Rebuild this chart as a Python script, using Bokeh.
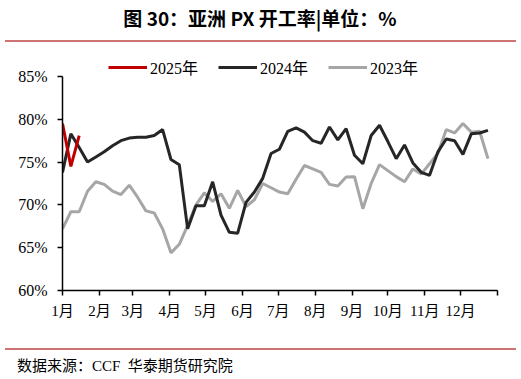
from bokeh.plotting import figure
from bokeh.models import Legend, LegendItem, FixedTicker, Div
from bokeh.layouts import column
from bokeh.embed import file_html
from bokeh.resources import INLINE

# ---- data (weekly, week index from Jan 1) ----
weeks_2025 = [0, 1, 2]
rate_2025 = [79.5, 74.5, 78.1]

weeks_2024 = list(range(52))
rate_2024 = [73.8, 78.3, 76.7, 75.0, 75.6, 76.2, 76.9, 77.5, 77.8, 77.9,
             77.9, 78.1, 78.8, 75.3, 74.7, 67.2, 69.9, 69.9, 72.7, 68.8,
             66.8, 66.7, 70.3, 71.5, 73.1, 76.0, 76.5, 78.6, 79.0, 78.5,
             77.5, 77.2, 79.1, 77.6, 78.9, 75.8, 74.8, 78.1, 79.3, 77.4,
             75.4, 77.0, 74.9, 73.8, 73.45, 76.2, 77.7, 77.5, 75.9, 78.3,
             78.4, 78.7]

weeks_2023 = list(range(52))
rate_2023 = [67.2, 69.2, 69.2, 71.6, 72.7, 72.4, 71.6, 71.2, 72.3, 70.9,
             69.3, 69.05, 67.2, 64.4, 65.4, 67.6, 70.0, 71.4, 70.4, 71.3,
             69.6, 71.7, 69.8, 70.6, 72.5, 72.0, 71.5, 71.3, 73.0, 74.6,
             74.2, 73.8, 72.4, 72.2, 73.25, 73.3, 69.55, 72.5, 74.7, 74.0,
             73.3, 72.7, 74.2, 73.6, 74.8, 76.0, 78.8, 78.4, 79.5, 78.5,
             78.6, 75.4]

month_starts = [0, 31, 59, 90, 120, 151, 181, 212, 243, 273, 304, 334, 365]
month_labels = ["1月", "2月", "3月", "4月", "5月", "6月", "7月", "8月",
                "9月", "10月", "11月", "12月", ""]
y_ticks = [60, 65, 70, 75, 80, 85]
y_labels = ["60%", "65%", "70%", "75%", "80%", "85%"]

title_text = "图 30：亚洲 PX 开工率|单位：%"
source_text = "数据来源：CCF&nbsp;&nbsp;华泰期货研究院"
series_names = ["2025年", "2024年", "2023年"]
series_colors = ["#c00000", "#262626", "#a6a6a6"]

SERIF = "'Liberation Serif', 'Noto Sans CJK SC'"
CJK = "'Noto Sans CJK SC'"
RULE = "#cd7373"

W = 520
TOP_H = 44
FIG_H = 302
BOT_H = 32

# ---- title block ----
top_html = (
    f'<div style="width:{W}px;height:{TOP_H}px;margin:0;padding:0;">'
    f'<div style="height:40px;line-height:35px;text-align:center;'
    f'font-family:{CJK};font-weight:bold;font-size:19px;color:#000;">{title_text}</div>'
    f'<div style="margin-left:5px;width:511px;height:2px;background:{RULE};"></div>'
    '</div>')
top_div = Div(text=top_html, width=W, height=TOP_H, margin=0)

# ---- main chart: frame left 62, top 58, right 497, bottom 290 (page px) ----
p = figure(width=W, height=FIG_H, x_range=(0, 365), y_range=(60, 87.1),
           output_backend="svg", toolbar_location=None,
           min_border_left=62, min_border_right=W - 497,
           min_border_top=58 - TOP_H, min_border_bottom=TOP_H + FIG_H - 290,
           margin=0)
p.outline_line_color = None
p.xgrid.visible = False
p.ygrid.visible = False
p.background_fill_color = "white"
p.border_fill_color = "white"

def to_days(ws):
    return [w * 7 for w in ws]

r23 = p.line(to_days(weeks_2023), rate_2023, line_color=series_colors[2], line_width=3)
r24 = p.line(to_days(weeks_2024), rate_2024, line_color=series_colors[1], line_width=3)
r25 = p.line(to_days(weeks_2025), rate_2025, line_color=series_colors[0], line_width=3)

for ax in (p.xaxis[0], p.yaxis[0]):
    ax.axis_line_color = "black"
    ax.axis_line_width = 1.5
    ax.major_tick_line_color = "black"
    ax.major_tick_line_width = 1.5
    ax.major_tick_in = 0
    ax.major_tick_out = 5
    ax.minor_tick_line_color = None
    ax.major_label_text_color = "black"
    ax.major_label_text_font = SERIF

p.xaxis.ticker = FixedTicker(ticks=month_starts)
p.xaxis.major_label_overrides = {t: l for t, l in zip(month_starts, month_labels)}
p.xaxis.major_label_text_font_size = "15px"
p.xaxis.major_label_standoff = 7

p.yaxis.ticker = FixedTicker(ticks=y_ticks)
p.yaxis.bounds = (60, 85)
p.yaxis.major_label_overrides = {t: l for t, l in zip(y_ticks, y_labels)}
p.yaxis.major_label_text_font_size = "16px"
p.yaxis.major_label_standoff = 10

legend = Legend(items=[LegendItem(label=series_names[0], renderers=[r25]),
                       LegendItem(label=series_names[1], renderers=[r24]),
                       LegendItem(label=series_names[2], renderers=[r23])],
                orientation="horizontal", location=(46, 211),
                border_line_color=None, background_fill_alpha=0,
                padding=0, margin=0, spacing=20, label_standoff=3,
                glyph_width=39, glyph_height=16, label_height=20,
                label_text_font=SERIF, label_text_font_size="16px",
                label_text_color="black")
p.add_layout(legend, "center")

# ---- source block ----
bot_html = (
    f'<div style="width:{W}px;height:{BOT_H}px;margin:0;padding:0;">'
    f'<div style="margin-left:5px;margin-top:2px;width:511px;height:2px;background:{RULE};"></div>'
    f'<div style="padding-left:17px;padding-top:3px;height:25px;line-height:26px;'
    f'font-family:{SERIF};font-size:15px;color:#000;white-space:nowrap;">{source_text}</div>'
    '</div>')
bot_div = Div(text=bot_html, width=W, height=BOT_H, margin=0)

layout = column(top_div, p, bot_div, spacing=0, margin=0)

open("out.html", "w").write(file_html(layout, INLINE))
